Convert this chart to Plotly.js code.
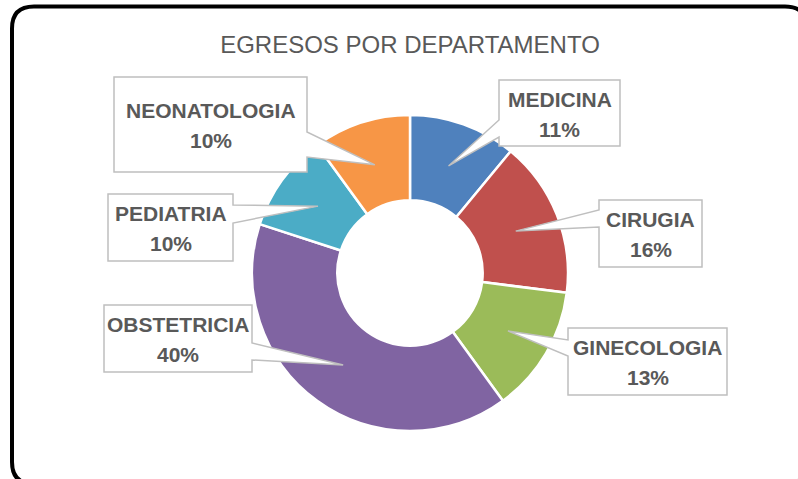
<!DOCTYPE html>
<html><head><meta charset="utf-8">
<script src="https://cdn.plot.ly/plotly-3.0.1.min.js"></script>
<style>html,body{margin:0;padding:0;background:#fff;}#chart{width:798px;height:479px;}</style>
</head><body><div id="chart"></div>
<script>
// ---- data ----
const categories = ['MEDICINA','CIRUGIA','GINECOLOGIA','OBSTETRICIA','PEDIATRIA','NEONATOLOGIA'];
const values = [11, 16, 13, 40, 10, 10];
const colors = ['#4F81BD','#C0504D','#9BBB59','#8064A2','#4BACC6','#F79646'];
const chartTitle = 'EGRESOS POR DEPARTAMENTO';

// ---- layout of callout boxes (pixels) ----
const boxes = [[499,620,80,146],[599,702,200,267],[568,727,328,395],[104,252,305,372],[108,233,194,261],[114,307,77,172]];
const sides = ['left','left','left','right','right','right'];
const bases = [[120,137],[210,227],[340,356],[343,360],[205,223],[132,157]];

const W = 798, H = 479;
const cx = 410, cy = 273, R = 158, hole = 0.46;
const px = x => x / W, py = y => 1 - y / H;

const total = values.reduce((a, b) => a + b, 0);
const shapes = [];
const annotations = [];

// outer rounded frame
(function(){
  const x0=12, y0=6.5, x1=807, y1=484, r=22;
  const P = (x,y) => px(x) + ',' + py(y);
  shapes.push({type:'path', xref:'paper', yref:'paper', layer:'above',
    path: 'M'+P(x0+r,y0)+' L'+P(x1-r,y0)+' Q'+P(x1,y0)+' '+P(x1,y0+r)+' L'+P(x1,y1-r)+' Q'+P(x1,y1)+' '+P(x1-r,y1)+
          ' L'+P(x0+r,y1)+' Q'+P(x0,y1)+' '+P(x0,y1-r)+' L'+P(x0,y0+r)+' Q'+P(x0,y0)+' '+P(x0+r,y0)+' Z',
    line:{color:'#000', width:4}, fillcolor:'rgba(0,0,0,0)'});
})();

let cum = 0;
values.forEach((v, i) => {
  const th = 2 * Math.PI * (cum + v / 2) / total;
  cum += v;
  const rt = R * 0.72;
  const tx = cx + rt * Math.sin(th), ty = cy - rt * Math.cos(th);
  const [x0, x1, y0, y1] = boxes[i];
  const [b0, b1] = bases[i];
  const P = (x,y) => px(x) + ',' + py(y);
  let path;
  if (sides[i] === 'right') {
    path = 'M'+P(x0,y0)+' L'+P(x1,y0)+' L'+P(x1,b0)+' L'+P(tx,ty)+' L'+P(x1,b1)+' L'+P(x1,y1)+' L'+P(x0,y1)+' Z';
  } else {
    path = 'M'+P(x0,y0)+' L'+P(x1,y0)+' L'+P(x1,y1)+' L'+P(x0,y1)+' L'+P(x0,b1)+' L'+P(tx,ty)+' L'+P(x0,b0)+' Z';
  }
  shapes.push({type:'path', xref:'paper', yref:'paper', layer:'above', path,
    line:{color:'#BFBFBF', width:1.5}, fillcolor:'#FFFFFF'});
  const mx = (x0 + x1) / 2, my = (y0 + y1) / 2;
  const pct = Math.round(v / total * 100) + '%';
  const f = {family:'Liberation Sans, Arial, sans-serif', size:21, color:'#595959', weight:'bold'};
  annotations.push({xref:'paper', yref:'paper', x:px(mx), y:py(my - 14), text:categories[i], showarrow:false,
    xanchor:'center', yanchor:'middle', font:f});
  annotations.push({xref:'paper', yref:'paper', x:px(mx), y:py(my + 16), text:pct, showarrow:false,
    xanchor:'center', yanchor:'middle', font:f});
});

const trace = {
  type:'pie', labels:categories, values:values, sort:false, direction:'clockwise', rotation:0,
  hole:hole, textinfo:'none', hoverinfo:'label+percent',
  marker:{colors:colors, line:{color:'#FFFFFF', width:2.5}},
  domain:{x:[px(cx - R), px(cx + R)], y:[py(cy + R), py(cy - R)]},
  showlegend:false
};

const layout = {
  width:W, height:H, margin:{l:0, r:0, t:0, b:0},
  paper_bgcolor:'#FFFFFF', plot_bgcolor:'#FFFFFF',
  title:{text:chartTitle, x:px(410), y:py(45), xanchor:'center', yanchor:'middle',
    font:{family:'Liberation Sans, Arial, sans-serif', size:24, color:'#595959'}},
  shapes, annotations, showlegend:false
};

Plotly.newPlot('chart', [trace], layout, {displayModeBar:false, staticPlot:true});
</script>
</body></html>
